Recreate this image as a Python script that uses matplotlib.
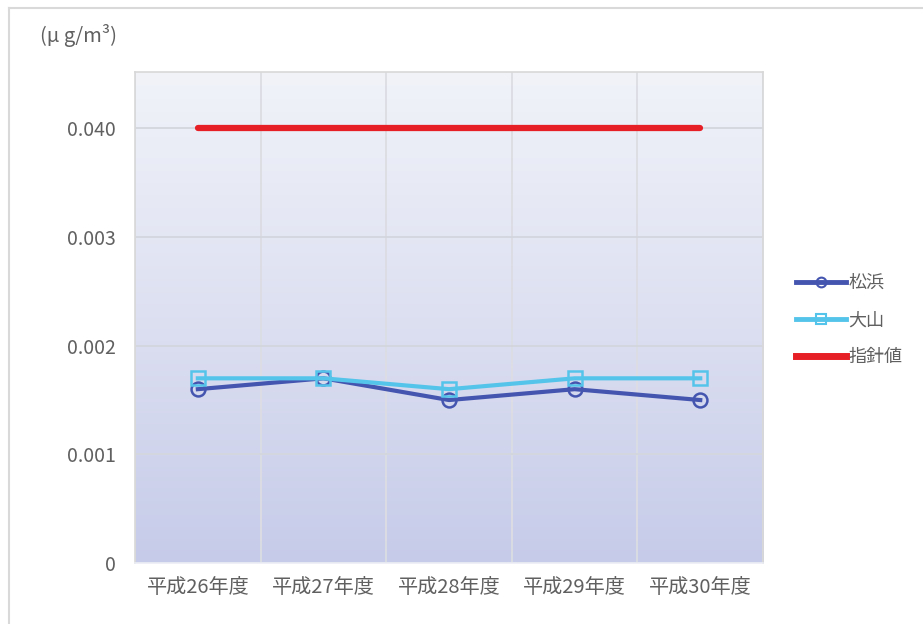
import numpy as np
import matplotlib
matplotlib.use("Agg")
import matplotlib.pyplot as plt
from matplotlib.lines import Line2D

plt.rcParams['font.family'] = ['Noto Sans CJK JP', 'DejaVu Sans']

# data (ug/m3)
years = ['平成26年度', '平成27年度', '平成28年度', '平成29年度', '平成30年度']
matsuhama = [0.0016, 0.0017, 0.0015, 0.0016, 0.0015]
oyama = [0.0017, 0.0017, 0.0016, 0.0017, 0.0017]
shishin = [0.040, 0.040, 0.040, 0.040, 0.040]
ytick_vals = [0, 0.001, 0.002, 0.003, 0.040]
ytick_labels = ['0', '0.001', '0.002', '0.003', '0.040']

# broken axis: ticks equally spaced
brk_v = np.array(ytick_vals + [0.060])
brk_p = np.arange(len(brk_v), dtype=float)

def fwd(v):
    return np.interp(v, brk_v, brk_p)

def inv(p):
    return np.interp(p, brk_p, brk_v)

grey = '#606060'
fig = plt.figure(figsize=(9.23, 6.24), dpi=100)
ax = fig.add_axes([0.1463, 0.0978, 0.6804, 0.7868])
ax.set_yscale('function', functions=(fwd, inv))

x = np.arange(len(years))
ax.set_xlim(-0.5, len(years) - 0.5)
ax.set_ylim(0, inv(4.52))

# gradient background
grad = np.linspace(0, 1, 256).reshape(-1, 1)
cmap = matplotlib.colors.LinearSegmentedColormap.from_list('bg', ['#c6cbe9', '#dde0f1', '#f1f3f9'])
ax.imshow(grad, cmap=cmap, aspect='auto', origin='lower',
          extent=(-0.5, len(years) - 0.5, 0, 1), transform=ax.transAxes, zorder=0)

ax.plot(x, shishin, color='#e61e25', lw=4.5, solid_capstyle='round', zorder=3)
ax.plot(x, matsuhama, color='#4455b0', lw=3, marker='o', ms=10, mfc='none',
        mew=1.8, zorder=4)
ax.plot(x, oyama, color='#55c4ea', lw=3, marker='s', ms=10, mfc='none',
        mew=1.8, zorder=5)

ax.set_xticks(x)
ax.set_xticklabels(years, fontsize=14.5, color=grey)
ax.set_xticks(np.arange(-0.5, len(years)), minor=True)
ax.set_yticks(ytick_vals)
ax.set_yticklabels(ytick_labels, fontsize=14, color=grey)
ax.yaxis.set_minor_locator(matplotlib.ticker.NullLocator())
ax.tick_params(axis='both', which='both', length=0)
ax.tick_params(axis='y', pad=14)
ax.tick_params(axis='x', pad=10)
ax.grid(True, axis='x', which='minor', color='#dcdde3', lw=1.3)
ax.grid(True, axis='y', which='major', color='#d4d6de', lw=1.3)
for s in ax.spines.values():
    s.set_color('#d8d8d8')
    s.set_linewidth(1.2)
ax.spines['bottom'].set_color('#eceef6')

fig.text(0.043, 0.932, '(μ g/m³)', fontsize=14.5, color=grey)

h1 = Line2D([], [], color='#4455b0', lw=3.5, marker='o', ms=7, mfc='none', mew=1.5)
h2 = Line2D([], [], color='#55c4ea', lw=3.5, marker='s', ms=7, mfc='none', mew=1.5)
h3 = Line2D([], [], color='#e61e25', lw=5)
fig.legend([h1, h2, h3], ['松浜', '大山', '指針値'], loc='center left',
           bbox_to_anchor=(0.845, 0.487), frameon=False, fontsize=13,
           labelcolor=grey, handlelength=2.75, handletextpad=0.15, labelspacing=1.05)

# outer frame
fig.add_artist(Line2D([9 / 923, 9 / 923], [0, 1 - 8 / 624], color='#d9d9d9', lw=1.5))
fig.add_artist(Line2D([9 / 923, 1], [1 - 8 / 624, 1 - 8 / 624], color='#d9d9d9', lw=1.5))

fig.savefig('out.png', dpi=100)
